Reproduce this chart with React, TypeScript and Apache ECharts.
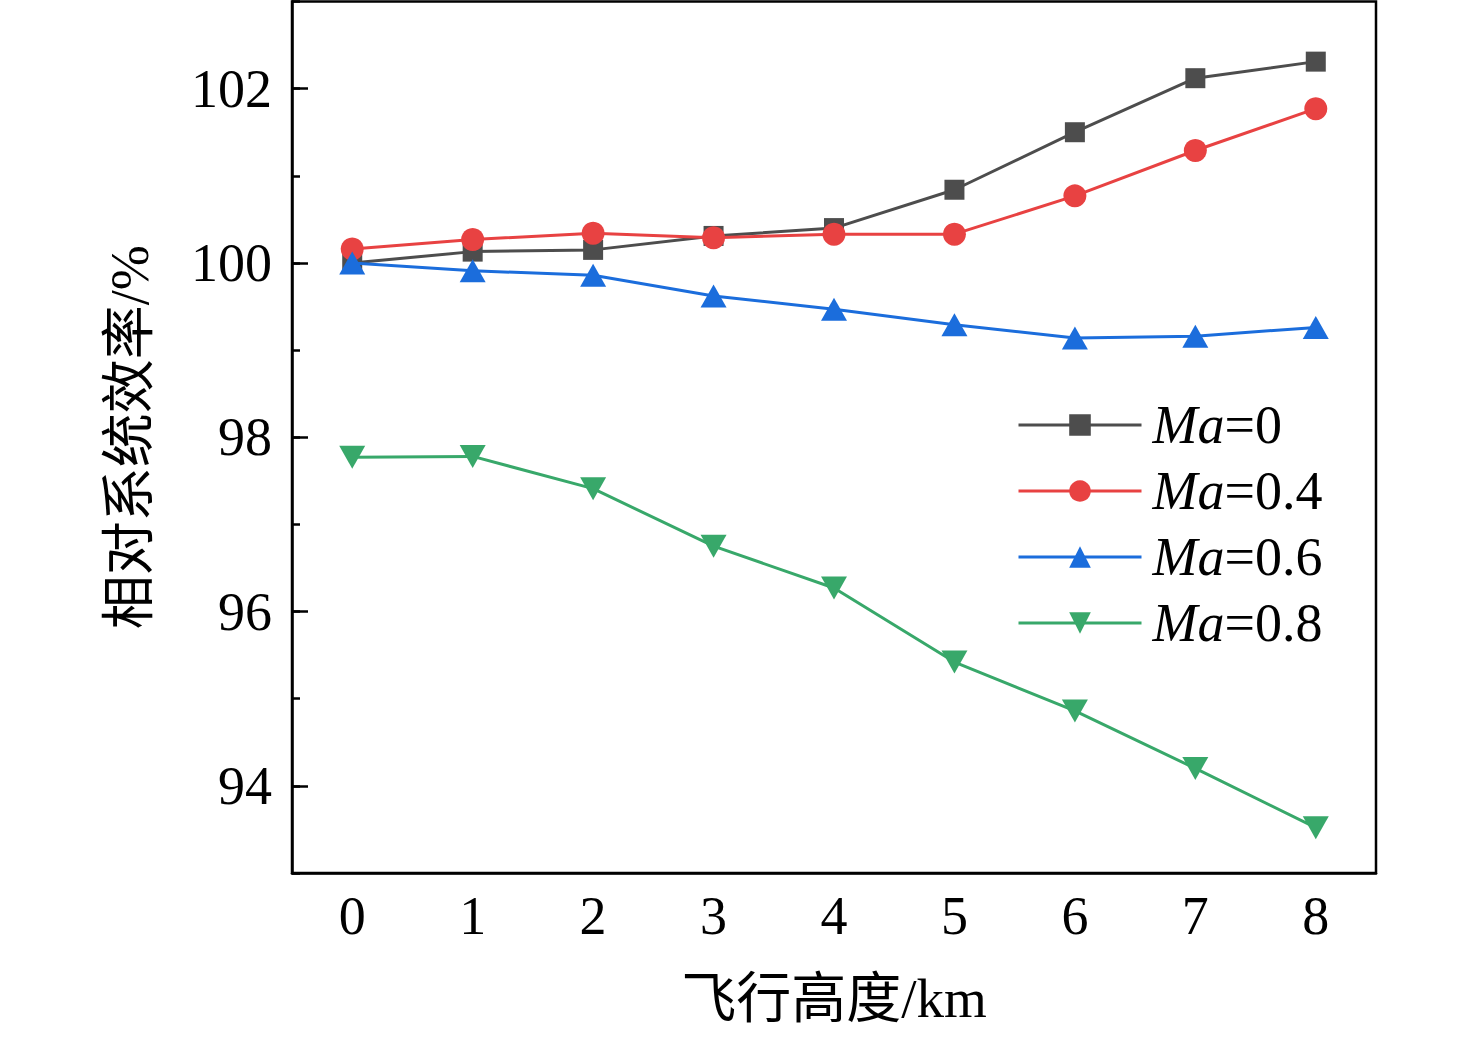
import React, { useEffect, useRef } from 'react';
import * as echarts from 'echarts';

const altitudes = ['0', '1', '2', '3', '4', '5', '6', '7', '8'];
const seriesNames = ['Ma=0', 'Ma=0.4', 'Ma=0.6', 'Ma=0.8'];
const ma0 = [100.0, 100.13, 100.15, 100.31, 100.4, 100.84, 101.5, 102.12, 102.31];
const ma04 = [100.16, 100.27, 100.34, 100.29, 100.33, 100.33, 100.77, 101.29, 101.77];
const ma06 = [100.0, 99.91, 99.86, 99.62, 99.47, 99.29, 99.14, 99.16, 99.26];
const ma08 = [97.77, 97.78, 97.41, 96.75, 96.27, 95.42, 94.86, 94.2, 93.52];
const colors = ['#4d4d4d', '#e84242', '#1b6ddc', '#38a86a'];

const FONT = '"Liberation Serif", "Noto Sans CJK SC", serif';
const W = 1476;
const H = 1039;
const GRID_LEFT = 292;
const GRID_RIGHT = 100;
const GRID_TOP = 1.5;
const GRID_BOTTOM = 166;
const Y_MIN = 93;
const Y_MAX = 103;

const App: React.FC = () => {
  const chartRef = useRef<HTMLDivElement>(null);

  useEffect(() => {
    const chart = echarts.init(chartRef.current!, undefined, { renderer: 'svg' });

    // second grid holds the long (labelled) y ticks at 94..102
    const unit = (H - GRID_TOP - GRID_BOTTOM) / (Y_MAX - Y_MIN);

    const seriesData = [ma0, ma04, ma06, ma08];
    const symbols = ['rect', 'circle', 'triangle', 'path://M0,0L10,0L5,9Z'];
    const sizes: any[] = [20, 23, [26, 23], [26, 23]];

    chart.setOption({
      animation: false,
      grid: [
        {
          left: GRID_LEFT,
          right: GRID_RIGHT,
          top: GRID_TOP,
          bottom: GRID_BOTTOM,
          show: true,
          borderColor: '#000',
          borderWidth: 2.5,
        },
        {
          left: GRID_LEFT,
          right: GRID_RIGHT,
          top: GRID_TOP + unit,
          bottom: GRID_BOTTOM + unit,
        },
      ],
      legend: {
        orient: 'vertical',
        left: 1017,
        top: 398,
        padding: 0,
        itemWidth: 123,
        itemHeight: 27,
        itemGap: 12,
        data: seriesNames,
        lineStyle: { width: 3 },
        formatter: (name: string) => `{i|Ma}{n|${name.slice(2)}}`,
        textStyle: {
          fontFamily: FONT,
          fontSize: 54,
          lineHeight: 52,
          color: '#000',
          rich: {
            i: {
              fontFamily: FONT,
              fontSize: 54,
              fontStyle: 'italic',
              lineHeight: 52,
              color: '#000',
              padding: [0, 0, 0, 6],
            },
            n: { fontFamily: FONT, fontSize: 54, lineHeight: 52, color: '#000' },
          },
        },
      },
      xAxis: [
        {
          type: 'category',
          gridIndex: 0,
          data: altitudes,
          boundaryGap: true,
          position: 'bottom',
          axisLine: { lineStyle: { color: '#000', width: 2.5 } },
          axisTick: { alignWithLabel: true, inside: true, length: 16, lineStyle: { color: '#000', width: 2.5 } },
          axisLabel: { fontFamily: FONT, fontSize: 54, color: '#000', margin: 16 },
          splitLine: { show: false },
          name: '飞行高度/km',
          nameLocation: 'middle',
          nameGap: 98,
          nameTextStyle: { fontFamily: FONT, fontSize: 55, color: '#000' },
        },
        {
          type: 'category',
          gridIndex: 0,
          data: altitudes,
          boundaryGap: true,
          position: 'bottom',
          axisLine: { show: false },
          axisTick: { alignWithLabel: false, inside: true, length: 8, lineStyle: { color: '#000', width: 2.5 } },
          axisLabel: { show: false },
          splitLine: { show: false },
        },
        { type: 'value', gridIndex: 1, show: false },
      ],
      yAxis: [
        {
          type: 'value',
          gridIndex: 0,
          min: Y_MIN,
          max: Y_MAX,
          interval: 1,
          axisLine: { show: true, lineStyle: { color: '#000', width: 2.5 } },
          axisTick: { show: true, inside: true, length: 8, lineStyle: { color: '#000', width: 2.5 } },
          axisLabel: { show: false },
          splitLine: { show: false },
          name: '相对系统效率/%',
          nameLocation: 'middle',
          nameRotate: 90,
          nameGap: 135,
          nameTextStyle: { fontFamily: FONT, fontSize: 54, color: '#000' },
        },
        {
          type: 'value',
          gridIndex: 1,
          min: 94,
          max: 102,
          interval: 2,
          axisLine: { show: false },
          axisTick: { show: true, inside: true, length: 16, lineStyle: { color: '#000', width: 2.5 } },
          axisLabel: { fontFamily: FONT, fontSize: 54, color: '#000', margin: 20 },
          splitLine: { show: false },
        },
      ],
      series: seriesData.map((d, i) => ({
        name: seriesNames[i],
        type: 'line',
        xAxisIndex: 0,
        yAxisIndex: 0,
        data: d,
        symbol: symbols[i],
        symbolSize: sizes[i],
        showAllSymbol: true,
        lineStyle: { color: colors[i], width: 3 },
        itemStyle: { color: colors[i] },
        z: 2 + i,
      })),
    });

    return () => {
      chart.dispose();
    };
  }, []);

  return (
    <div
      ref={chartRef}
      style={{ position: 'fixed', left: 0, top: 0, width: W, height: H, background: '#fff' }}
    />
  );
};

export default App;
